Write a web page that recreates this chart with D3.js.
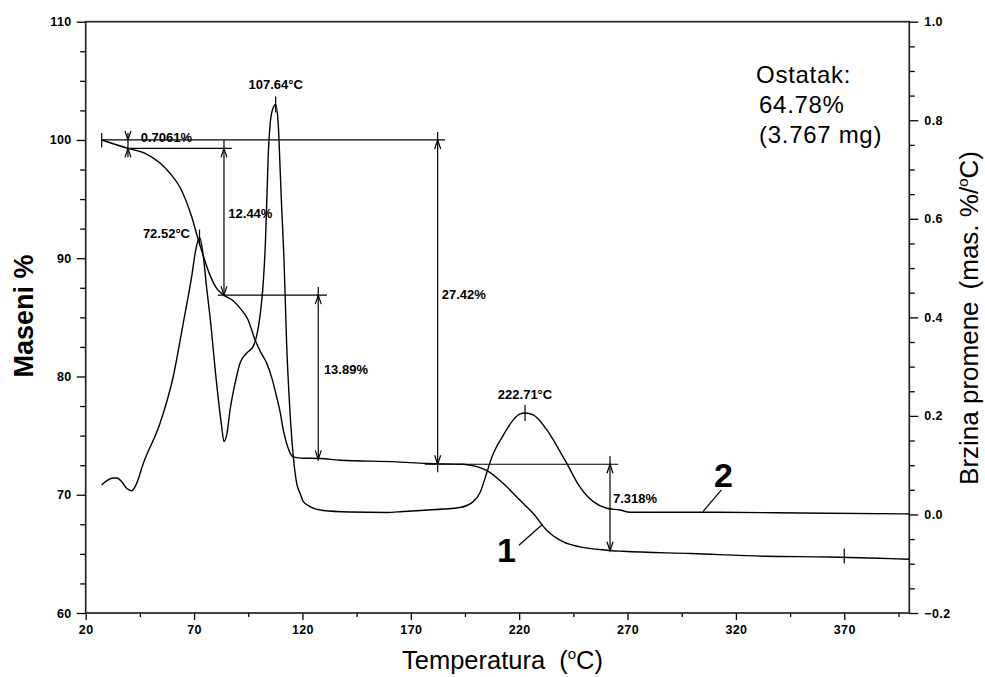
<!DOCTYPE html>
<html><head><meta charset="utf-8">
<script src="https://cdn.jsdelivr.net/npm/d3@7"></script>
<style>
body{margin:0;background:#fff}
svg{display:block}
text{font-family:"Liberation Sans",Arial,sans-serif;fill:#000}
</style>
</head><body>
<svg id="c" width="985" height="677"></svg>
<script>
// ---------- DATA ----------
// Curve 1: TG, mass % (left axis)
const tgTemp = [27.38,39.5,47.4,54.3,58.9,63.5,68.9,72.0,74.6,77.35,80.6,83.8,88.0,91.2,94.9,98.2,100.9,103.5,106.0,108.1,109.6,111.2,113.3,115.8,118.9,128.1,137.3,163.5,177.3,194.2,200.1,205.0,212.7,220.4,226.5,232.7,240.4,248.0,260.4,267.9,299.6,333.4,363.4,391.1,400];
const tgMass = [100.0,99.29,98.87,98.05,97.18,96.0,93.5,91.53,90.0,88.57,87.4,86.88,86.4,85.78,84.8,83.07,82.0,81.13,79.8,78.27,77.1,75.46,74.0,73.2,73.1,73.06,72.92,72.78,72.64,72.58,72.4,72.07,70.95,69.53,68.41,67.0,66.01,65.59,65.31,65.22,65.03,64.8,64.74,64.6,64.55];
// Curve 2: DTG, rate (mas. %/°C, right axis)
const dtgTemp = [27.38,32.6,34.4,36.7,39.1,41.2,43.2,46.6,54.3,60.4,65.0,68.9,70.7,72.52,74.1,75.8,77.35,80.4,82.75,83.8,85.2,86.6,88.9,91.2,94.4,97.3,99.0,100.4,101.9,103.0,104.2,105.8,107.64,108.9,109.6,110.4,111.5,112.7,114.2,115.8,117.35,118.9,120.4,123.5,129.6,141.9,158.9,166.4,185.0,192.7,198.8,201.9,205.0,207.3,212.7,217.3,220.4,222.71,226.5,232.7,238.8,241.9,248.0,254.2,260.4,266.5,271.2,309.4,349.5,400];
const dtgRate = [0.060,0.074,0.074,0.066,0.052,0.048,0.060,0.104,0.185,0.280,0.388,0.483,0.535,0.562,0.530,0.460,0.402,0.266,0.178,0.148,0.165,0.212,0.266,0.307,0.328,0.341,0.365,0.402,0.469,0.560,0.726,0.815,0.832,0.787,0.713,0.625,0.517,0.348,0.212,0.117,0.063,0.043,0.026,0.016,0.008,0.005,0.004,0.006,0.011,0.014,0.026,0.044,0.084,0.115,0.161,0.192,0.204,0.206,0.202,0.172,0.128,0.104,0.056,0.026,0.0126,0.009,0.0045,0.0045,0.003,0.001];

// Axes ticks
const xTicks = [20,70,120,170,220,270,320,370];
const xMinor = [45,95,145,195,245,295,345,395];
const leftTicks = [60,70,80,90,100,110];
const leftMinor = [62.5,65,67.5,72.5,75,77.5,82.5,85,87.5,92.5,95,97.5,102.5,105,107.5];
const rightTicks = [-0.2,0.0,0.2,0.4,0.6,0.8,1.0];
const rightMinor = [-0.15,-0.1,-0.05,0.05,0.1,0.15,0.25,0.3,0.35,0.45,0.5,0.55,0.65,0.7,0.75,0.85,0.9,0.95];

// DTG peaks
const peakTemps = [72.52,107.64,222.71];
const peakRates = [0.562,0.832,0.206];
const peakLabels = ["72.52°C","107.64°C","222.71°C"];

// TG step levels (mass %) and their horizontal extents (°C)
const levelMass = [100.0,99.29,86.88,72.58];
const levelFrom = [27.38,39.5,81.0,176.5];
const levelTo   = [185.8,87.4,131.3,265.7];

// step arrows: temperature, top mass, bottom mass, label
const stepTemp  = [39.5,83.8,127.3,182.4,261.9];
const stepTop   = [100.0,99.29,86.88,100.0,72.58];
const stepBot   = [99.29,86.88,72.99,72.58,65.26];
const stepLabel = ["0.7061%","12.44%","13.89%","27.42%","7.318%"];
const stepLabelT = [45.4,85.8,129.9,184.3,263.3];
const stepLabelM = [99.85,93.37,80.21,86.55,69.27];

const residue = ["Ostatak:","64.78%","(3.767 mg)"];
const residueT = 370;

// ---------- CHART ----------
const svg = d3.select("#c");
const x = d3.scaleLinear().domain([20,400]).range([85.7,909.3]);
const yL = d3.scaleLinear().domain([60,110]).range([613,21.7]);
const yR = d3.scaleLinear().domain([-0.2,1.0]).range([613,21.7]);

function styleAxis(g){
  g.select(".domain").remove();
  g.selectAll(".tick line").attr("stroke","#000").attr("stroke-width",1.3);
  g.selectAll(".tick text").style("font-size","12.5px").style("font-weight","bold").style("letter-spacing","0.4px").attr("fill","#000");
}
// bottom
svg.append("g").attr("transform","translate(0,613)")
  .call(d3.axisBottom(x).tickValues(xTicks).tickSize(7).tickPadding(5).tickFormat(d3.format("d"))).call(styleAxis);
svg.append("g").attr("transform","translate(0,613)")
  .call(d3.axisBottom(x).tickValues(xMinor).tickSize(4).tickFormat("")).call(styleAxis);
// left
svg.append("g").attr("transform","translate(85.7,0)")
  .call(d3.axisLeft(yL).tickValues(leftTicks).tickSize(9).tickPadding(5).tickFormat(d3.format("d"))).call(styleAxis);
svg.append("g").attr("transform","translate(85.7,0)")
  .call(d3.axisLeft(yL).tickValues(leftMinor).tickSize(5.5).tickFormat("")).call(styleAxis);
// right
svg.append("g").attr("transform","translate(909.3,0)")
  .call(d3.axisRight(yR).tickValues(rightTicks).tickSize(9).tickPadding(6).tickFormat(d3.format(".1f"))).call(styleAxis);
svg.append("g").attr("transform","translate(909.3,0)")
  .call(d3.axisRight(yR).tickValues(rightMinor).tickSize(5.5).tickFormat("")).call(styleAxis);

// frame
svg.append("rect").attr("x",x(20)).attr("y",yL(110)).attr("width",x(400)-x(20)).attr("height",yL(60)-yL(110))
  .attr("fill","none").attr("stroke","#222").attr("stroke-width",1.7);

// curves
const tgData = tgTemp.map((t,i)=>[t,tgMass[i]]);
const dtgData = dtgTemp.map((t,i)=>[t,dtgRate[i]]);
svg.append("path").datum(tgData)
  .attr("d",d3.line().x(d=>x(d[0])).y(d=>yL(d[1])).curve(d3.curveMonotoneX))
  .attr("fill","none").attr("stroke","#000").attr("stroke-width",1.4);
svg.append("path").datum(dtgData)
  .attr("d",d3.line().x(d=>x(d[0])).y(d=>yR(d[1])).curve(d3.curveMonotoneX))
  .attr("fill","none").attr("stroke","#000").attr("stroke-width",1.4);

const ann = svg.append("g").attr("stroke","#000").attr("stroke-width",1.2).attr("fill","none");
function line(x1,y1,x2,y2){ann.append("line").attr("x1",x1).attr("y1",y1).attr("x2",x2).attr("y2",y2);}
function head(px,py,dir){ // dir -1 = pointing up, +1 = pointing down
  ann.append("polyline").attr("points",`${px-3},${py-dir*9} ${px},${py} ${px+3},${py-dir*9}`);
}
// level lines
levelMass.forEach((m,i)=>line(x(levelFrom[i]),yL(m),x(levelTo[i]),yL(m)));
// start tick
line(x(tgTemp[0]),yL(tgMass[0])-7,x(tgTemp[0]),yL(tgMass[0])+7.5);
// step arrows
stepTemp.forEach((t,i)=>{
  const px=x(t), yt=yL(stepTop[i]), yb=yL(stepBot[i]);
  if(i===0){
    line(px,yt-7,px,yb+9);
    head(px,yt,1); head(px,yb,-1);
  } else {
    const ext = (i===3)?8:(i===4?0:1);
    line(px,yt-8,px,yb+ext);
    head(px,yt,-1); head(px,yb,1);
  }
});
// peak ticks
peakTemps.forEach((t,i)=>line(x(t),yR(peakRates[i])-8,x(t),yR(peakRates[i])+8));
// residue tick
line(x(residueT),yL(64.77)-8,x(residueT),yL(64.77)+7);

// step labels
stepLabel.forEach((s,i)=>svg.append("text").attr("x",x(stepLabelT[i])).attr("y",yL(stepLabelM[i]))
  .style("font-size","13px").style("font-weight","bold").text(s));
// peak labels
const pl = (i,xx,yy,anchor)=>svg.append("text").attr("x",xx).attr("y",yy).attr("text-anchor",anchor)
  .style("font-size","13px").style("font-weight","bold").text(peakLabels[i]);
pl(0,x(peakTemps[0])-9.5,yR(peakRates[0]),"end");
pl(1,x(peakTemps[1]),yR(peakRates[1])-15,"middle");
pl(2,x(peakTemps[2]),yR(peakRates[2])-14,"middle");

// residue text
residue.forEach((s,i)=>svg.append("text").attr("x",x(329.3)+(i?3:0)).attr("y",yL(104.82)+i*30)
  .style("font-size","24px").style("letter-spacing","0.7px").text(s));

// curve labels 1 and 2 with leaders
svg.append("text").attr("x",x(214.1)).attr("y",yL(64.29)).attr("text-anchor","middle")
  .style("font-size","34px").style("font-weight","bold").text("1");
line(x(219.9),yL(65.73),x(230.8),yL(67.5));
svg.append("text").attr("x",x(314.2)).attr("y",yR(0.056)).attr("text-anchor","middle")
  .style("font-size","34px").style("font-weight","bold").text("2");
line(x(313.3),yR(0.05),x(304.8),yR(0.0057));

// axis titles
const xt = svg.append("text").attr("x",402).attr("y",669).style("font-size","25.5px");
xt.append("tspan").text("Temperatura");
xt.append("tspan").attr("dx",14).text("(");
xt.append("tspan").attr("dy",-10).style("font-size","15px").text("o");
xt.append("tspan").attr("dy",10).text("C)");

svg.append("text").attr("transform","translate(33,316) rotate(-90)").attr("text-anchor","middle")
  .style("font-size","27px").style("font-weight","bold").text("Maseni %");

const rt = svg.append("text").attr("transform","translate(978,318) rotate(-90)").attr("text-anchor","middle").style("font-size","26px");
rt.append("tspan").text("Brzina promene");
rt.append("tspan").attr("dx",12).text("(mas. %/");
rt.append("tspan").attr("dy",-10).style("font-size","15px").text("o");
rt.append("tspan").attr("dy",10).text("C)");
</script>
</body></html>
